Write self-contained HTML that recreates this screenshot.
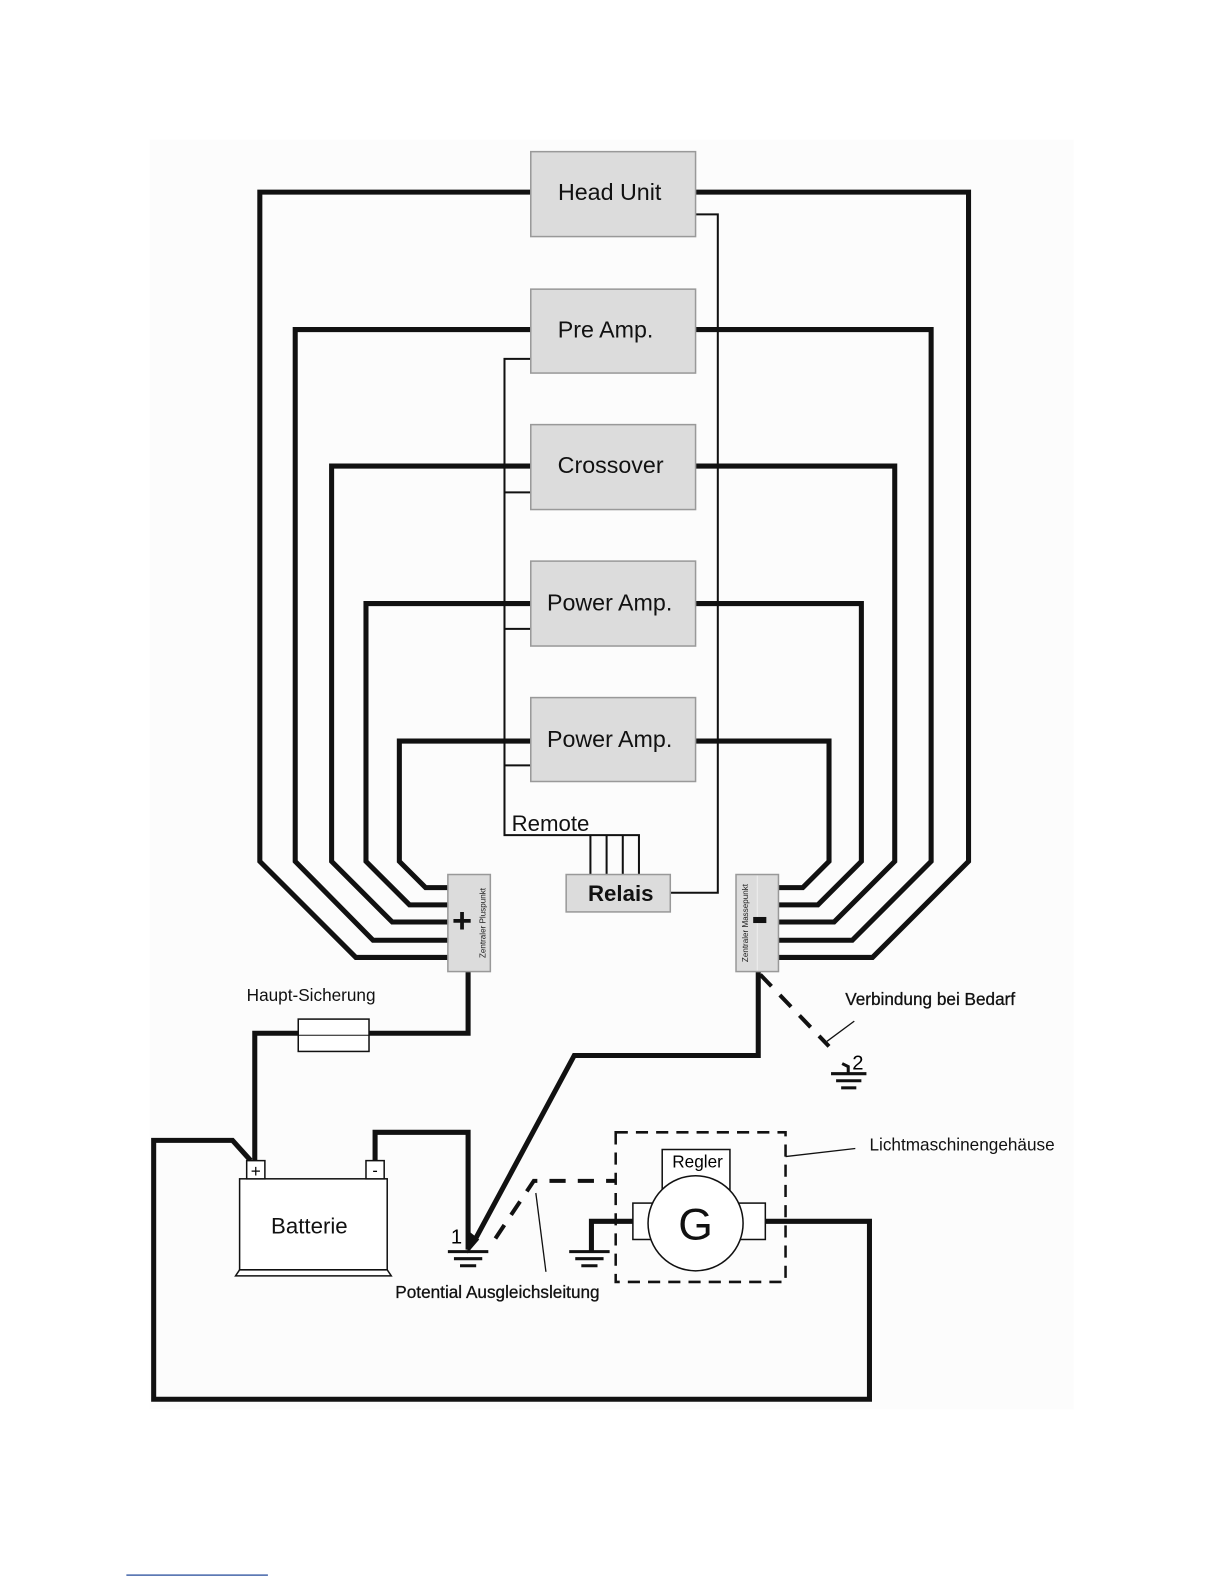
<!DOCTYPE html>
<html><head><meta charset="utf-8"><style>
html,body{margin:0;padding:0;background:#fff;}
svg{display:block;font-family:"Liberation Sans",Arial,sans-serif;}
</style></head><body>
<svg width="1224" height="1584" viewBox="0 0 1224 1584" xmlns="http://www.w3.org/2000/svg">
<g transform="scale(1.011)">
<rect x="148" y="138" width="914" height="1256" fill="#fcfcfc"/>
<g fill="none" stroke="#111" stroke-width="5" stroke-linejoin="miter">
<polyline points="525,190 257,190 257,852 352,947 443,947"/>
<polyline points="525,326 292,326 292,852 369,930 443,930"/>
<polyline points="525,461 328,461 328,852 388,912 443,912"/>
<polyline points="525,597 362,597 362,852 405,895 443,895"/>
<polyline points="525,733 395,733 395,852 421,878 443,878"/>
<polyline points="688,190 958,190 958,852 863,947 770,947"/>
<polyline points="688,326 921,326 921,852 843,930 770,930"/>
<polyline points="688,461 885,461 885,852 825,912 770,912"/>
<polyline points="688,597 852,597 852,852 809,895 770,895"/>
<polyline points="688,733 820,733 820,852 794,878 770,878"/>
<polyline points="463,961 463,1022 252,1022 252,1148"/>
<polyline points="371,1148 371,1120 463,1120 463,1236"/>
<polyline points="750,961 750,1044 568,1044 470,1226"/>
<polyline points="248,1148 230,1128 152,1128 152,1384 860,1384 860,1208 757,1208"/>
<polyline points="626,1208 585,1208 585,1238"/>
</g>
<polygon points="462,1240 464,1218 474,1226" fill="#111"/>
<g fill="none" stroke="#111" stroke-width="2">
<polyline points="688,212 710,212 710,883 663,883"/>
<polyline points="525,355 499,355 499,826 632,826 632,865"/>
<line x1="584" y1="826" x2="584" y2="865"/><line x1="600" y1="826" x2="600" y2="865"/><line x1="616" y1="826" x2="616" y2="865"/>
<line x1="499" y1="487" x2="525" y2="487"/><line x1="499" y1="622" x2="525" y2="622"/><line x1="499" y1="757" x2="525" y2="757"/>
</g>
<g fill="none" stroke="#111" stroke-width="1.3">
<line x1="845" y1="1010" x2="818" y2="1030"/>
<line x1="540" y1="1258" x2="530" y2="1180"/>
<line x1="777" y1="1144" x2="846" y2="1136"/>
</g>
<g fill="none" stroke="#111" stroke-width="4" stroke-dasharray="16,12">
<line x1="752" y1="964" x2="820" y2="1035"/>
<polyline points="490,1225 528,1168 609,1168"/>
</g>
<rect x="609" y="1120" width="168" height="148" fill="none" stroke="#111" stroke-width="2.5" stroke-dasharray="12,8"/>
<g fill="#dcdcdc" stroke="#999" stroke-width="1.5">
<rect x="525" y="150" width="163" height="84"/>
<rect x="525" y="286" width="163" height="83"/>
<rect x="525" y="420" width="163" height="84"/>
<rect x="525" y="555" width="163" height="84"/>
<rect x="525" y="690" width="163" height="83"/>
<rect x="560" y="865" width="103" height="37"/>
<rect x="443" y="865" width="42" height="96"/>
<rect x="728" y="865" width="42" height="96"/>
</g>
<line x1="749" y1="866" x2="749" y2="960" stroke="#eee" stroke-width="1"/>
<g font-size="23" fill="#111" text-anchor="middle">
<text x="603" y="198">Head Unit</text>
<text x="599" y="334">Pre Amp.</text>
<text x="604" y="468">Crossover</text>
<text x="603" y="604">Power Amp.</text>
<text x="603" y="739">Power Amp.</text>
<text x="614" y="891" font-weight="bold" font-size="22">Relais</text>
</g>
<text x="506" y="822" font-size="22" fill="#111">Remote</text>
<text x="457" y="922" font-size="34" font-weight="bold" text-anchor="middle" fill="#111">+</text>
<rect x="745" y="907" width="13" height="6" fill="#111"/>
<text transform="translate(480,913) rotate(-90)" font-size="8" text-anchor="middle" fill="#222">Zentraler Pluspunkt</text>
<text transform="translate(740,913) rotate(-90)" font-size="8" text-anchor="middle" fill="#222">Zentraler Massepunkt</text>
<rect x="295" y="1008" width="70" height="32" fill="#fff" stroke="#111" stroke-width="1.5"/>
<line x1="295" y1="1024" x2="365" y2="1024" stroke="#111" stroke-width="1"/>
<g fill="#fff" stroke="#111" stroke-width="1.5">
<rect x="237" y="1166" width="146" height="90"/>
<polygon points="237,1256 383,1256 387,1262 233,1262"/>
<rect x="244" y="1148" width="18" height="18"/>
<rect x="362" y="1148" width="18" height="18"/>
</g>
<text x="253" y="1164" font-size="17" text-anchor="middle">+</text>
<text x="371" y="1163" font-size="16" text-anchor="middle">-</text>
<text x="306" y="1220" font-size="22" text-anchor="middle" fill="#111">Batterie</text>
<g stroke="#111" stroke-width="3">
<line x1="443" y1="1238" x2="483" y2="1238"/><line x1="449" y1="1245" x2="477" y2="1245"/><line x1="455" y1="1252" x2="471" y2="1252"/>
<line x1="563" y1="1238" x2="603" y2="1238"/><line x1="569" y1="1245" x2="597" y2="1245"/><line x1="575" y1="1252" x2="591" y2="1252"/>
<line x1="822" y1="1062" x2="857" y2="1062"/><line x1="827" y1="1069" x2="852" y2="1069"/><line x1="832" y1="1076" x2="847" y2="1076"/>
<polyline points="839,1062 839,1055 833,1052" fill="none"/>
</g>
<text x="446" y="1230" font-size="20">1</text>
<text x="843" y="1058" font-size="20">2</text>
<g fill="#fff" stroke="#111" stroke-width="1.5">
<rect x="655" y="1137" width="67" height="40"/>
<rect x="626" y="1190" width="30" height="36"/>
<rect x="720" y="1190" width="37" height="36"/>
<circle cx="688" cy="1210" r="47"/>
</g>
<text x="690" y="1155" font-size="17" text-anchor="middle">Regler</text>
<text x="688" y="1226" font-size="44" text-anchor="middle" fill="#111">G</text>
<g font-size="17" fill="#111">
<text x="244" y="990">Haupt-Sicherung</text>
<text x="836" y="994" stroke="#111" stroke-width="0.3">Verbindung bei Bedarf</text>
<text x="860" y="1138">Lichtmaschinengehäuse</text>
<text x="391" y="1284" stroke="#111" stroke-width="0.3">Potential  Ausgleichsleitung</text>
</g>
<line x1="125" y1="1558" x2="265" y2="1558" stroke="#4466aa" stroke-width="1.5"/>
</g>
</svg>
</body></html>
